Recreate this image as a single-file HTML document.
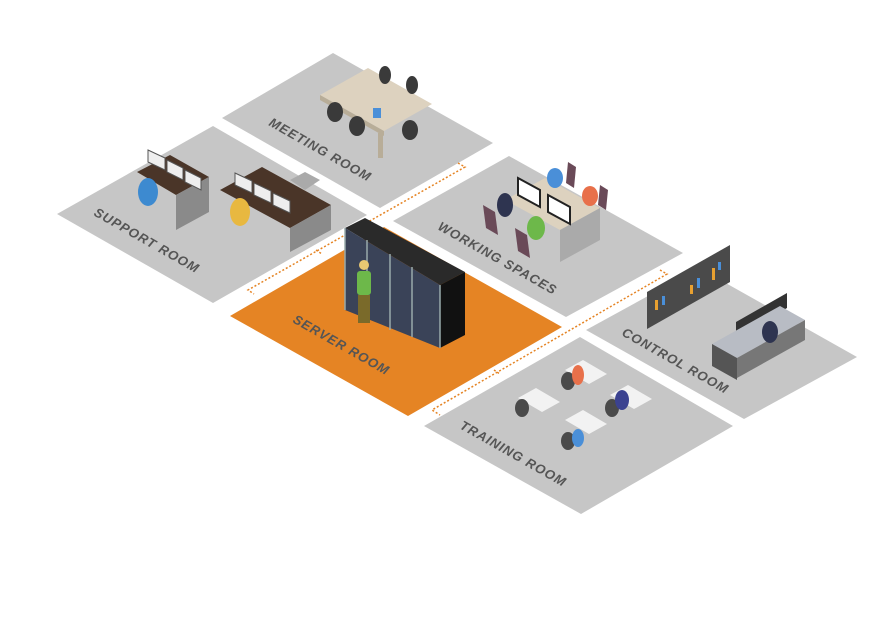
<!DOCTYPE html>
<html><head><meta charset="utf-8"><style>
html,body{margin:0;padding:0;background:#fff;}
svg{display:block;}
text{font-family:"Liberation Sans",sans-serif;font-weight:bold;font-style:italic;font-size:13px;fill:#555;letter-spacing:1px;}
</style></head><body>
<svg width="874" height="623" viewBox="0 0 874 623" xmlns="http://www.w3.org/2000/svg">
<!-- floors -->
<polygon points="333,53 493,143 380,208 222,118" fill="#c6c6c6"/>
<polygon points="213,126 367,215 213,303 57,214" fill="#c6c6c6"/>
<polygon points="509,156 683,253 566,317 393,221" fill="#c6c6c6"/>
<polygon points="699,268 857,357 744,419 586,330" fill="#c6c6c6"/>
<polygon points="580,337 733,426 581,514 424,426" fill="#c6c6c6"/>
<polygon points="384,227 562,327 408,416 230,316" fill="#e58424"/>
<!-- dotted connectors -->
<g stroke="#e58424" stroke-width="1.5" stroke-dasharray="2,2" fill="none">
<polyline points="458,163 465,167 248,290 254,294"/>
<polyline points="660,270 667,274 432,410 440,415"/>
<polyline points="316,250 322,254"/>
<polyline points="494,370 500,374"/>
</g>
<!-- meeting room furniture -->
<polygon points="320,95 368,68 432,104 384,131" fill="#ddd2bf"/>
<polygon points="320,95 384,131 384,136 320,100" fill="#b8ad98"/>
<rect x="378" y="133" width="5" height="25" fill="#b8ad98"/>
<g fill="#3a3a3a"><ellipse cx="335" cy="112" rx="8" ry="10"/><ellipse cx="357" cy="126" rx="8" ry="10"/><ellipse cx="410" cy="130" rx="8" ry="10"/><ellipse cx="385" cy="75" rx="6" ry="9"/><ellipse cx="412" cy="85" rx="6" ry="9"/></g>
<rect x="373" y="108" width="8" height="10" fill="#4a8fd8"/>
<!-- support room furniture -->
<polygon points="137,172 170,155 209,177 176,195" fill="#4a3528"/>
<polygon points="176,195 209,177 209,212 176,230" fill="#8a8a8a"/>
<polygon points="220,190 262,167 331,205 290,228" fill="#4a3528"/>
<polygon points="290,228 331,205 331,230 290,252" fill="#8a8a8a"/>
<polygon points="290,180 305,172 320,180 305,190" fill="#aaa"/>
<g fill="#eee" stroke="#555" stroke-width="1"><polygon points="148,150 165,158 165,170 148,162"/><polygon points="167,160 183,168 183,180 167,172"/><polygon points="185,170 201,178 201,190 185,182"/><polygon points="235,173 252,181 252,193 235,185"/><polygon points="254,183 271,191 271,203 254,195"/><polygon points="273,193 290,201 290,213 273,205"/></g>
<ellipse cx="148" cy="192" rx="10" ry="14" fill="#3d8ad0"/>
<ellipse cx="240" cy="212" rx="10" ry="14" fill="#e8b840"/>
<!-- working spaces furniture -->
<polygon points="505,200 545,178 600,208 560,230" fill="#ddd2bf"/>
<polygon points="560,230 600,208 600,240 560,262" fill="#aaa"/>
<g fill="#fff" stroke="#222" stroke-width="2"><polygon points="518,178 540,190 540,207 518,195"/><polygon points="548,195 570,207 570,224 548,212"/></g>
<g fill="#6a4a58"><polygon points="483,205 495,212 498,235 486,228"/><polygon points="515,228 527,235 530,258 518,251"/><polygon points="568,162 576,167 574,188 566,183"/><polygon points="600,185 608,190 606,210 598,205"/></g>
<ellipse cx="505" cy="205" rx="8" ry="12" fill="#2e3450"/><ellipse cx="536" cy="228" rx="9" ry="12" fill="#6db84a"/><ellipse cx="555" cy="178" rx="8" ry="10" fill="#4a8fd8"/><ellipse cx="590" cy="196" rx="8" ry="10" fill="#e8704a"/>
<!-- control room -->
<polygon points="647,292 730,245 730,282 647,329" fill="#4a4a4a"/>
<g fill="#e8a030"><rect x="655" y="300" width="3" height="10"/><rect x="690" y="285" width="3" height="9"/><rect x="712" y="268" width="3" height="12"/></g>
<g fill="#4a8fd8"><rect x="662" y="296" width="3" height="9"/><rect x="697" y="278" width="3" height="10"/><rect x="718" y="262" width="3" height="8"/></g>
<polygon points="736,322 787,293 787,308 736,337" fill="#333"/>
<polygon points="712,344 780,306 805,320 737,358" fill="#b8bcc4"/>
<polygon points="712,344 737,358 737,380 712,366" fill="#555"/>
<polygon points="737,358 805,320 805,340 737,378" fill="#777"/>
<ellipse cx="770" cy="332" rx="8" ry="11" fill="#2e3450"/>
<!-- training room -->
<g fill="#f2f2f2"><polygon points="518,398 536,388 560,402 542,412"/><polygon points="565,370 583,360 607,374 589,384"/><polygon points="610,395 628,385 652,399 634,409"/><polygon points="565,420 583,410 607,424 589,434"/></g>
<g fill="#4a4a4a"><ellipse cx="522" cy="408" rx="7" ry="9"/><ellipse cx="568" cy="381" rx="7" ry="9"/><ellipse cx="612" cy="408" rx="7" ry="9"/><ellipse cx="568" cy="441" rx="7" ry="9"/></g>
<ellipse cx="578" cy="375" rx="6" ry="10" fill="#e8704a"/><ellipse cx="622" cy="400" rx="7" ry="10" fill="#3b4290"/><ellipse cx="578" cy="438" rx="6" ry="9" fill="#4a8fd8"/>
<!-- server racks -->
<polygon points="345,228 365,218 465,272 440,285" fill="#2a2a2a"/>
<polygon points="345,228 440,285 440,348 345,310" fill="#3a4358"/>
<polygon points="440,285 465,272 465,335 440,348" fill="#111"/>
<g stroke="#9aa" stroke-width="1.5" fill="none"><polyline points="345,228 345,310"/><polyline points="367,240 367,322"/><polyline points="390,254 390,330"/><polyline points="412,267 412,337"/><polyline points="440,285 440,348"/></g>
<!-- person -->
<circle cx="364" cy="265" r="5" fill="#e8c872"/>
<rect x="357" y="271" width="14" height="24" rx="3" fill="#6db84a"/>
<rect x="358" y="295" width="12" height="28" fill="#7a6a2a"/>
<!-- labels -->
<text transform="translate(268,125) rotate(29.5)">MEETING ROOM</text>
<text transform="translate(93,215) rotate(29.5)">SUPPORT ROOM</text>
<text transform="translate(292,322) rotate(29.5)">SERVER ROOM</text>
<text transform="translate(437,229) rotate(29.5)">WORKING SPACES</text>
<text transform="translate(621,335) rotate(29.5)">CONTROL ROOM</text>
<text transform="translate(459,428) rotate(29.5)">TRAINING ROOM</text>
</svg>
</body></html>
